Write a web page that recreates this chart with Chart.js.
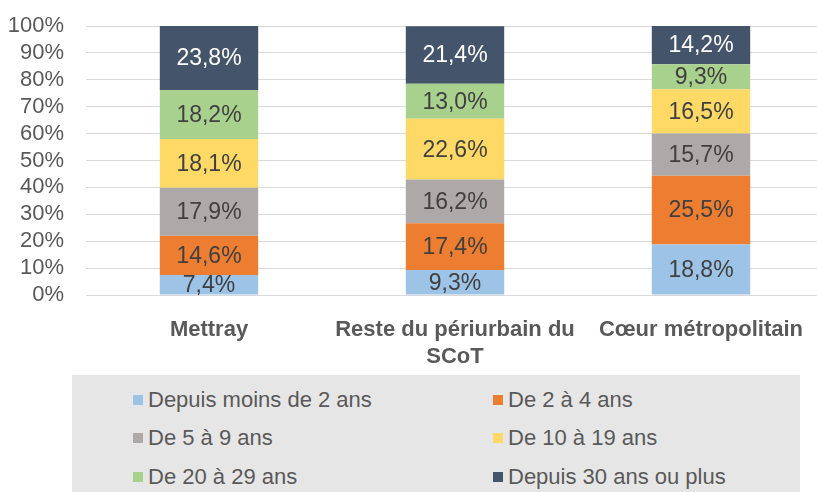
<!DOCTYPE html>
<html>
<head>
<meta charset="utf-8">
<script src="https://cdn.jsdelivr.net/npm/chart.js@4"></script>
<style>
  body { margin: 0; background: #fff; }
  #wrap { position: relative; width: 817px; height: 492px; overflow: hidden; }
  #chart-box { position: absolute; left: 0; top: 0; width: 826px; height: 375px; }
  #legend {
    position: absolute; left: 72px; top: 375px; width: 728px; height: 130px;
    background: #e7e6e6;
    font-family: 'Liberation Sans', sans-serif;
    font-size: 22px; color: #595959;
  }
  .item { position: absolute; display: flex; align-items: center; white-space: nowrap; }
  .sw { width: 10px; height: 10px; margin-right: 5px; }
</style>
</head>
<body>
<div id="wrap">
  <div id="chart-box"><canvas id="c"></canvas></div>
  <div id="legend"></div>
</div>
<script>
// categories and series (percent of households, by time in current home)
const categories = ['Mettray', ['Reste du périurbain du', 'SCoT'], 'Cœur métropolitain'];
const seriesNames = [
  'Depuis moins de 2 ans', 'De 2 à 4 ans', 'De 5 à 9 ans',
  'De 10 à 19 ans', 'De 20 à 29 ans', 'Depuis 30 ans ou plus'
];
const lessThan2 = [7.4, 9.3, 18.8];
const from2to4 = [14.6, 17.4, 25.5];
const from5to9 = [17.9, 16.2, 15.7];
const from10to19 = [18.1, 22.6, 16.5];
const from20to29 = [18.2, 13.0, 9.3];
const over30 = [23.8, 21.4, 14.2];
const yTicks = [0, 10, 20, 30, 40, 50, 60, 70, 80, 90, 100];

const colors = ['#9dc3e6', '#ed7d31', '#ada9a8', '#ffd966', '#a9d18e', '#44546a'];
const labelColors = ['#404040', '#404040', '#404040', '#404040', '#404040', '#ffffff'];
const FONT = "'Liberation Sans', sans-serif";

const seriesData = [lessThan2, from2to4, from5to9, from10to19, from20to29, over30];

// write the value in the middle of each segment
const segmentLabels = {
  id: 'segmentLabels',
  afterDatasetsDraw(chart) {
    const ctx = chart.ctx;
    ctx.save();
    ctx.font = '23px ' + FONT;
    ctx.textAlign = 'center';
    ctx.textBaseline = 'middle';
    chart.data.datasets.forEach((ds, i) => {
      const meta = chart.getDatasetMeta(i);
      meta.data.forEach((bar, j) => {
        const mid = (bar.y + bar.base) / 2;
        ctx.fillStyle = labelColors[i];
        ctx.fillText(ds.data[j].toFixed(1).replace('.', ',') + '%', bar.x, mid + 1);
      });
    });
    ctx.restore();
  }
};

const chart = new Chart(document.getElementById('c'), {
  type: 'bar',
  data: {
    labels: categories,
    datasets: seriesData.map((d, i) => ({
      label: seriesNames[i],
      data: d,
      backgroundColor: colors[i],
      borderWidth: 0,
      barPercentage: 0.4,
      categoryPercentage: 1
    }))
  },
  options: {
    responsive: true,
    maintainAspectRatio: false,
    animation: false,
    layout: { padding: { top: 26, right: 2, left: 0, bottom: 0 } },
    plugins: { legend: { display: false }, tooltip: { enabled: false } },
    scales: {
      x: {
        stacked: true,
        grid: { display: false },
        border: { display: false },
        ticks: {
          color: '#595959',
          font: { family: FONT, size: 22, weight: 'bold' },
          padding: 14,
          autoSkip: false,
          maxRotation: 0
        },
        afterFit(scale) { scale.height = 80; }
      },
      y: {
        stacked: true,
        min: 0,
        max: 100,
        afterBuildTicks(scale) { scale.ticks = yTicks.map(v => ({ value: v })); },
        // invisible tick marks keep the labels away from the grid
        grid: { color: '#d9d9d9', lineWidth: 1, drawTicks: true, tickLength: 22, tickColor: 'rgba(0,0,0,0)' },
        border: { display: false },
        ticks: {
          color: '#595959',
          font: { family: FONT, size: 22 },
          padding: 0,
          autoSkip: false,
          callback: v => v + '%'
        },
        afterFit(scale) { scale.width = 86; }
      }
    }
  },
  plugins: [segmentLabels]
});

// legend in two columns, built from the chart's datasets
const legend = document.getElementById('legend');
const colX = [61, 421];
const rowY = [25, 63, 102];
chart.data.datasets.forEach((ds, i) => {
  const el = document.createElement('div');
  el.className = 'item';
  el.style.left = colX[i % 2] + 'px';
  el.style.top = (rowY[Math.floor(i / 2)] - 14) + 'px';
  el.style.height = '28px';
  el.innerHTML = '<span class="sw" style="background:' + ds.backgroundColor + '"></span>';
  const t = document.createElement('span');
  t.textContent = ds.label;
  el.appendChild(t);
  legend.appendChild(el);
});
</script>
</body>
</html>
